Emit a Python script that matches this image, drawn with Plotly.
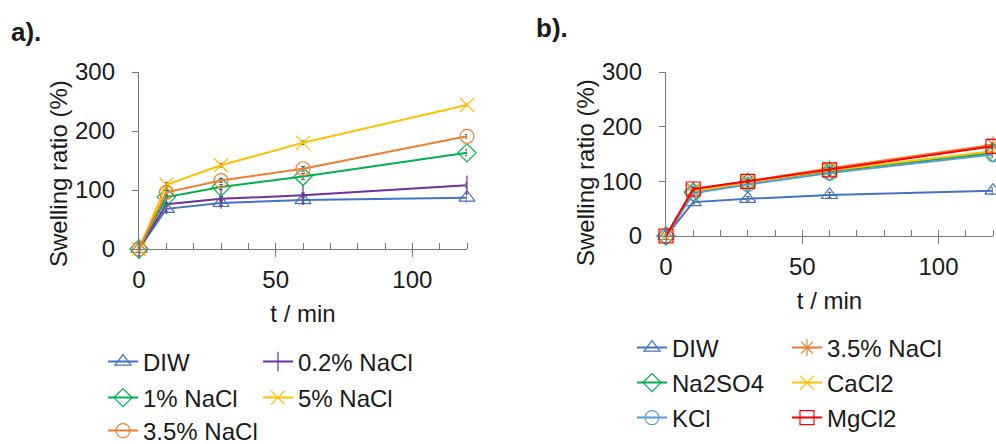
import plotly.graph_objects as go

# Sampling times (min)
t_min = [0, 10, 30, 60, 120]

# Panel a: swelling ratio (%) in DIW and NaCl solutions of increasing concentration
a_diw = [0, 68, 78, 83, 87]
a_nacl_02 = [0, 76, 85, 91, 108]
a_nacl_1 = [0, 88, 105, 123, 163]
a_nacl_5 = [0, 109, 142, 180, 244]
a_nacl_35 = [0, 96, 116, 136, 191]

# Panel a: standard deviations (%)
a_diw_sd = [0, 4, 4, 5, 7]
a_nacl_02_sd = [0, 3, 4, 4, 4]
a_nacl_1_sd = [0, 3, 4, 5, 5]
a_nacl_5_sd = [0, 4, 3, 3, 2]
a_nacl_35_sd = [0, 3, 3, 4, 3]

# Panel b: swelling ratio (%) in different salt solutions
b_diw = [0, 62, 68, 75, 83]
b_na2so4 = [0, 80, 98, 118, 152]
b_kcl = [0, 78, 94, 115, 149]
b_nacl_35 = [0, 85, 100, 124, 167]
b_cacl2 = [0, 82, 98, 120, 155]
b_mgcl2 = [0, 86, 100, 121, 164]

# Panel b: standard deviations (%)
b_diw_sd = [0, 3, 4, 5, 5]
b_na2so4_sd = [0, 3, 4, 5, 5]
b_kcl_sd = [0, 3, 4, 4, 5]
b_nacl_35_sd = [0, 3, 3, 4, 4]
b_cacl2_sd = [0, 3, 4, 4, 5]
b_mgcl2_sd = [0, 3, 3, 4, 4]

W, H = 996, 444
FONT = "Liberation Sans, Arial, sans-serif"
AXIS_GREY = "#7a7a7a"
ERR_GREY = "#555555"

BLUE = "#4472C4"
PURPLE = "#7030A0"
GREEN = "#00B050"
YELLOW = "#FFC000"
ORANGE = "#ED7D31"
LIGHTBLUE = "#5B9BD5"
RED = "#FF0000"


def px_x(p):
    return p / W


def px_y(p):
    return 1 - p / H


fig = go.Figure()


def add_series(name, y, sd, color, symbol, xaxis, yaxis, legend):
    fig.add_trace(go.Scatter(
        x=t_min, y=y, name=name, mode="lines+markers",
        line=dict(color=color, width=2),
        marker=dict(symbol=symbol, size=14, color=color,
                    line=dict(color=color, width=1.2)),
        error_y=dict(type="data", array=sd, color=ERR_GREY, thickness=1, width=2),
        xaxis=xaxis, yaxis=yaxis, legend=legend, cliponaxis=False,
    ))


# Panel a (legend rows: legend, legend2, legend3)
add_series("DIW", a_diw, a_diw_sd, BLUE, "triangle-up-open", "x", "y", "legend")
add_series("0.2% NaCl", a_nacl_02, a_nacl_02_sd, PURPLE, "line-ns-open", "x", "y", "legend")
add_series("1% NaCl", a_nacl_1, a_nacl_1_sd, GREEN, "diamond-open", "x", "y", "legend2")
add_series("5% NaCl", a_nacl_5, a_nacl_5_sd, YELLOW, "x-thin-open", "x", "y", "legend2")
add_series("3.5% NaCl", a_nacl_35, a_nacl_35_sd, ORANGE, "circle-open", "x", "y", "legend3")

# Panel b (legend rows: legend4, legend5, legend6)
add_series("DIW", b_diw, b_diw_sd, BLUE, "triangle-up-open", "x2", "y2", "legend4")
add_series("3.5% NaCl", b_nacl_35, b_nacl_35_sd, ORANGE, "asterisk-open", "x2", "y2", "legend4")
add_series("Na2SO4", b_na2so4, b_na2so4_sd, GREEN, "diamond-open", "x2", "y2", "legend5")
add_series("CaCl2", b_cacl2, b_cacl2_sd, YELLOW, "x-thin-open", "x2", "y2", "legend5")
add_series("KCl", b_kcl, b_kcl_sd, LIGHTBLUE, "circle-open", "x2", "y2", "legend6")
add_series("MgCl2", b_mgcl2, b_mgcl2_sd, RED, "square-open", "x2", "y2", "legend6")

xaxis_style = dict(
    range=[0, 120], dtick=50, tick0=0, showgrid=False, zeroline=False,
    showline=True, linecolor=AXIS_GREY, linewidth=1.3,
    ticks="outside", ticklen=7, tickcolor=AXIS_GREY, tickwidth=1.3,
    minor=dict(ticks="inside", dtick=10, ticklen=6, tickcolor=AXIS_GREY, tickwidth=1.3),
    tickfont=dict(size=24, color="#1a1a1a"), ticklabelstandoff=2,
    title=dict(text="t / min", font=dict(size=24, color="#1a1a1a"), standoff=13),
)
yaxis_style = dict(
    range=[0, 300], dtick=100, tick0=0, showgrid=False, zeroline=False,
    showline=True, linecolor=AXIS_GREY, linewidth=1.3,
    ticks="outside", ticklen=6, tickcolor=AXIS_GREY, tickwidth=1.3,
    tickfont=dict(size=24, color="#1a1a1a"), ticklabelstandoff=12,
)

legend_common = dict(
    orientation="h", xanchor="left", yanchor="middle",
    entrywidth=110, entrywidthmode="pixels",
    font=dict(family=FONT, size=24, color="#1a1a1a"),
    bgcolor="rgba(0,0,0,0)", borderwidth=0,
)

fig.update_layout(
    width=W, height=H,
    margin=dict(l=0, r=0, t=0, b=0, autoexpand=False),
    paper_bgcolor="white", plot_bgcolor="white",
    font=dict(family=FONT, size=24, color="#1a1a1a"),
    xaxis=dict(domain=[px_x(139), px_x(467)], anchor="y", **xaxis_style),
    yaxis=dict(domain=[px_y(249), px_y(72)], anchor="x", **yaxis_style),
    xaxis2=dict(domain=[px_x(666), px_x(993)], anchor="y2", **xaxis_style),
    yaxis2=dict(domain=[px_y(236), px_y(72)], anchor="x2", **yaxis_style),
    legend=dict(x=px_x(103), y=px_y(362), **legend_common),
    legend2=dict(x=px_x(103), y=px_y(398), **legend_common),
    legend3=dict(x=px_x(103), y=px_y(431), **legend_common),
    legend4=dict(x=px_x(632), y=px_y(348), **legend_common),
    legend5=dict(x=px_x(632), y=px_y(383), **legend_common),
    legend6=dict(x=px_x(632), y=px_y(418), **legend_common),
    showlegend=True,
)

# Panel labels and rotated y-axis titles
for text, x, y in [("a).", 9, 32), ("b).", 534, 28)]:
    fig.add_annotation(text=f"<b>{text}</b>", x=px_x(x), y=px_y(y),
                       xref="paper", yref="paper", xanchor="left", yanchor="middle",
                       showarrow=False, font=dict(size=26, color="#1a1a1a"))

for x, y in [(58, 174), (585, 173)]:
    fig.add_annotation(text="Swelling ratio (%)", x=px_x(x), y=px_y(y),
                       xref="paper", yref="paper", xanchor="center", yanchor="middle",
                       textangle=-90, showarrow=False,
                       font=dict(size=24, color="#1a1a1a"))

fig.write_html("out.html")
